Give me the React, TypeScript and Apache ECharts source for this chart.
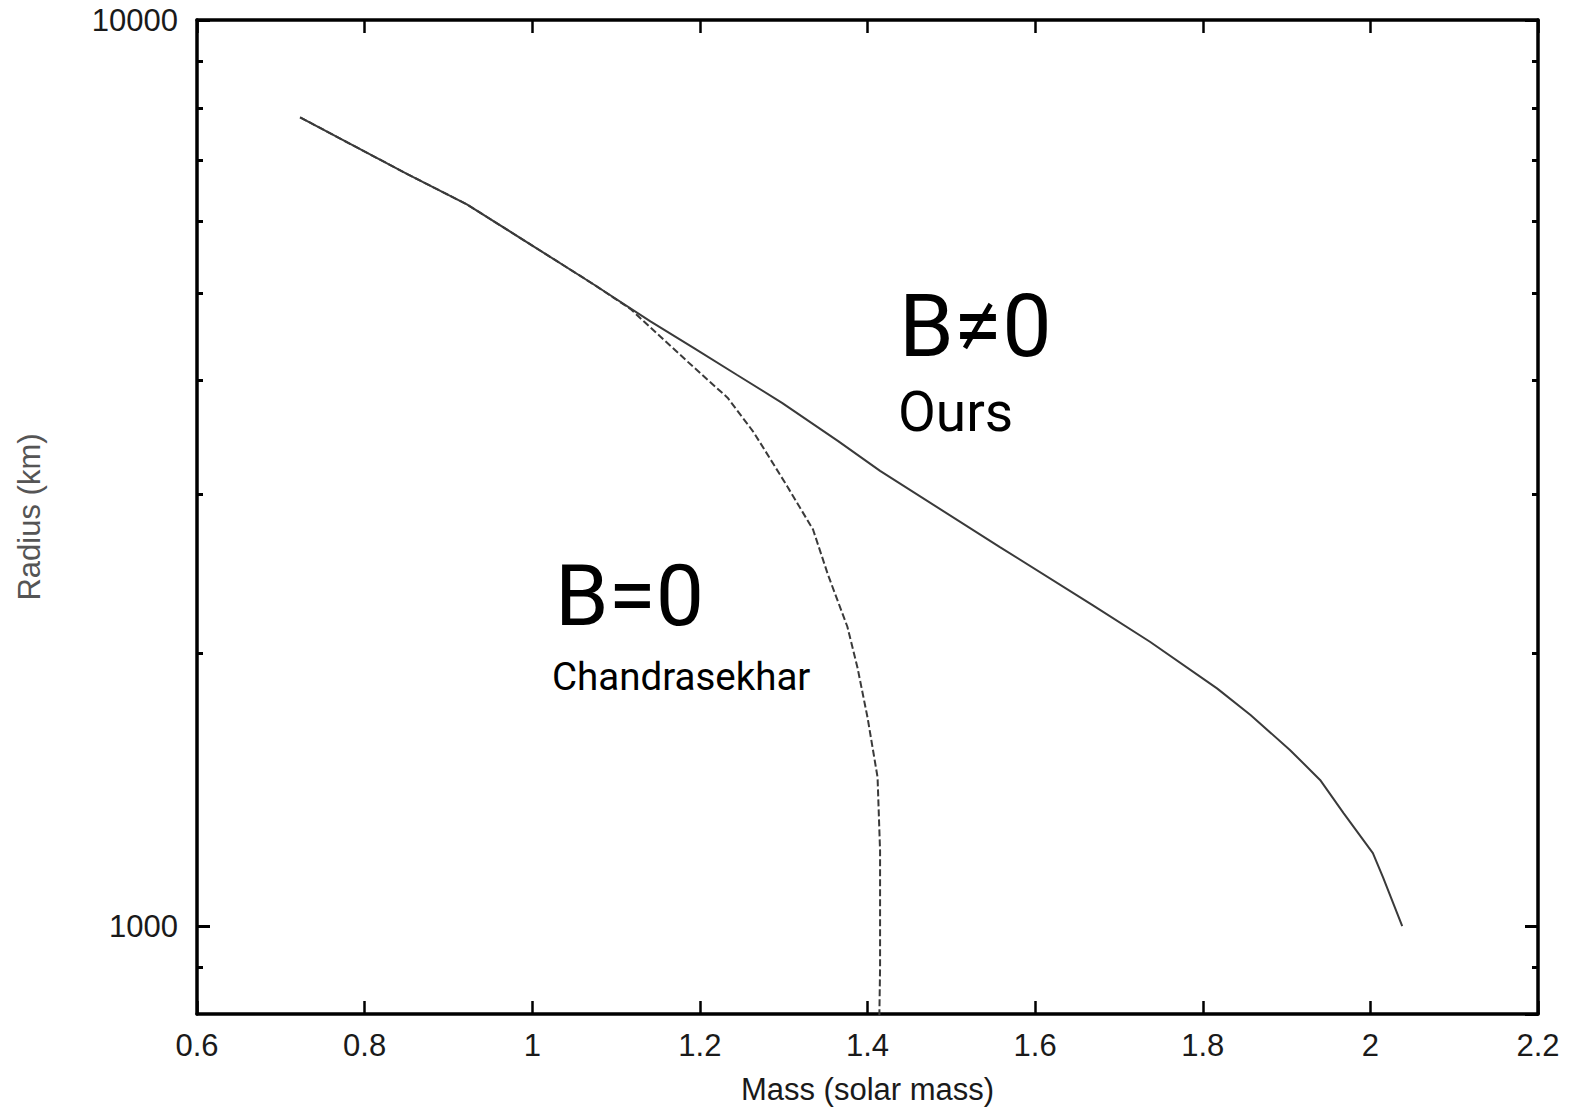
import React, { useEffect, useRef } from "react";
import * as echarts from "echarts";

// Axis ranges and tick values
const massMin = 0.6;
const massMax = 2.2;
const massStep = 0.2;
const radiusMin = 800;
const radiusMax = 10000;
const radiusMinorTicks = [900, 2000, 3000, 4000, 5000, 6000, 7000, 8000, 9000];

// B≠0 (Ours)
const oursMass = [0.723, 0.767, 0.851, 0.922, 1.001, 1.073, 1.141, 1.192, 1.244, 1.298, 1.365, 1.415, 1.558, 1.669, 1.737, 1.817, 1.857, 1.904, 1.94, 1.968, 2.003, 2.015, 2.038];
const oursRadius = [7810, 7430, 6760, 6260, 5630, 5110, 4650, 4350, 4060, 3780, 3430, 3180, 2620, 2260, 2060, 1830, 1710, 1565, 1450, 1333, 1204, 1133, 1000];

// B=0 (Chandrasekhar)
const chandraMass = [0.723, 0.767, 0.851, 0.922, 1.001, 1.073, 1.117, 1.185, 1.233, 1.264, 1.304, 1.335, 1.353, 1.376, 1.388, 1.4, 1.412, 1.415, 1.415, 1.414];
const chandraRadius = [7810, 7430, 6760, 6260, 5630, 5110, 4800, 4200, 3830, 3510, 3060, 2740, 2440, 2140, 1930, 1700, 1460, 1210, 900, 780];

const labelFont = "'Liberation Sans', Arial, sans-serif";
const annoFont = "Roboto, 'Open Sans', sans-serif";

const axisLine = { show: true, onZero: false, lineStyle: { color: "#000", width: 3.5 } };

export default function App() {
  const ref = useRef<HTMLDivElement>(null);
  useEffect(() => {
    const chart = echarts.init(ref.current!, null, { renderer: "svg" });
    const minorVals = radiusMinorTicks.map((v) => Math.log10(v));
    const option: any = {
      animation: false,
      backgroundColor: "#fff",
      grid: { left: 197, right: 35, top: 20, bottom: 96, containLabel: false, outerBoundsMode: "none" },
      xAxis: [
        {
          type: "value",
          position: "bottom",
          min: massMin,
          max: massMax,
          interval: massStep,
          axisLine,
          axisTick: { show: true, inside: true, length: 13, lineStyle: { color: "#000", width: 2.5 } },
          axisLabel: {
            show: true,
            margin: 16,
            fontSize: 31,
            fontFamily: labelFont,
            color: "#1a1a1a",
            formatter: (v: number) => String(+v.toFixed(1)),
          },
          splitLine: { show: false },
          name: "Mass (solar mass)",
          nameLocation: "middle",
          nameGap: 60,
          nameTextStyle: { fontSize: 31, fontFamily: labelFont, color: "#1a1a1a" },
        },
        {
          type: "value",
          position: "top",
          min: massMin,
          max: massMax,
          interval: massStep,
          axisLine,
          axisTick: { show: true, inside: true, length: 13, lineStyle: { color: "#000", width: 2.5 } },
          axisLabel: { show: false },
          splitLine: { show: false },
        },
      ],
      yAxis: [
        {
          type: "log",
          logBase: 10,
          position: "left",
          min: radiusMin,
          max: radiusMax,
          axisLine,
          axisTick: { show: true, inside: true, length: 13, lineStyle: { color: "#000", width: 3 } },
          axisLabel: {
            show: true,
            margin: 19,
            fontSize: 31,
            fontFamily: labelFont,
            color: "#1a1a1a",
            showMinLabel: false,
            formatter: (v: number) => String(Math.round(v)),
          },
          splitLine: { show: false },
          minorTick: { show: false },
          name: "Radius (km)",
          nameLocation: "middle",
          nameGap: 152,
          nameRotate: 90,
          nameTextStyle: { fontSize: 31, fontFamily: labelFont, color: "#555" },
        },
        {
          type: "value",
          position: "left",
          min: Math.log10(radiusMin),
          max: Math.log10(radiusMax),
          axisLine: { show: false },
          axisTick: { show: true, inside: true, length: 6, customValues: minorVals, lineStyle: { color: "#000", width: 3 } },
          axisLabel: { show: false },
          splitLine: { show: false },
        },
        {
          type: "log",
          logBase: 10,
          position: "right",
          min: radiusMin,
          max: radiusMax,
          axisLine,
          axisTick: { show: true, inside: true, length: 13, lineStyle: { color: "#000", width: 3 } },
          axisLabel: { show: false },
          splitLine: { show: false },
        },
        {
          type: "value",
          position: "right",
          min: Math.log10(radiusMin),
          max: Math.log10(radiusMax),
          axisLine: { show: false },
          axisTick: { show: true, inside: true, length: 6, customValues: minorVals, lineStyle: { color: "#000", width: 3 } },
          axisLabel: { show: false },
          splitLine: { show: false },
        },
      ],
      series: [
        {
          type: "line",
          name: "B=0",
          xAxisIndex: 0,
          yAxisIndex: 0,
          data: chandraMass.map((m, i) => [m, chandraRadius[i]]),
          symbol: "none",
          clip: true,
          lineStyle: { color: "#3a3a3a", width: 2, type: [7, 3] },
          z: 2,
        },
        {
          type: "line",
          name: "B≠0",
          xAxisIndex: 0,
          yAxisIndex: 0,
          data: oursMass.map((m, i) => [m, oursRadius[i]]),
          symbol: "none",
          clip: true,
          lineStyle: { color: "#3a3a3a", width: 2, type: "solid" },
          z: 3,
        },
      ],
      graphic: [
        { type: "text", x: 899, y: 325.9, style: { text: "B≠0", fontSize: 88, fontFamily: annoFont, fill: "#000", align: "left", verticalAlign: "middle" } },
        { type: "text", x: 898, y: 411.7, style: { text: "Ours", fontSize: 55, fontFamily: annoFont, fill: "#000", align: "left", verticalAlign: "middle" } },
        { type: "text", x: 555, y: 595.6, style: { text: "B=0", fontSize: 86, fontFamily: annoFont, fill: "#000", align: "left", verticalAlign: "middle" } },
        { type: "text", x: 552, y: 676.8, style: { text: "Chandrasekhar", fontSize: 38.5, fontFamily: annoFont, fill: "#000", align: "left", verticalAlign: "middle" } },
      ],
    };
    chart.setOption(option);
    return () => chart.dispose();
  }, []);
  return (
    <div
      ref={ref}
      style={{ position: "fixed", left: 0, top: 0, width: 1573, height: 1110, background: "#fff" }}
    />
  );
}
